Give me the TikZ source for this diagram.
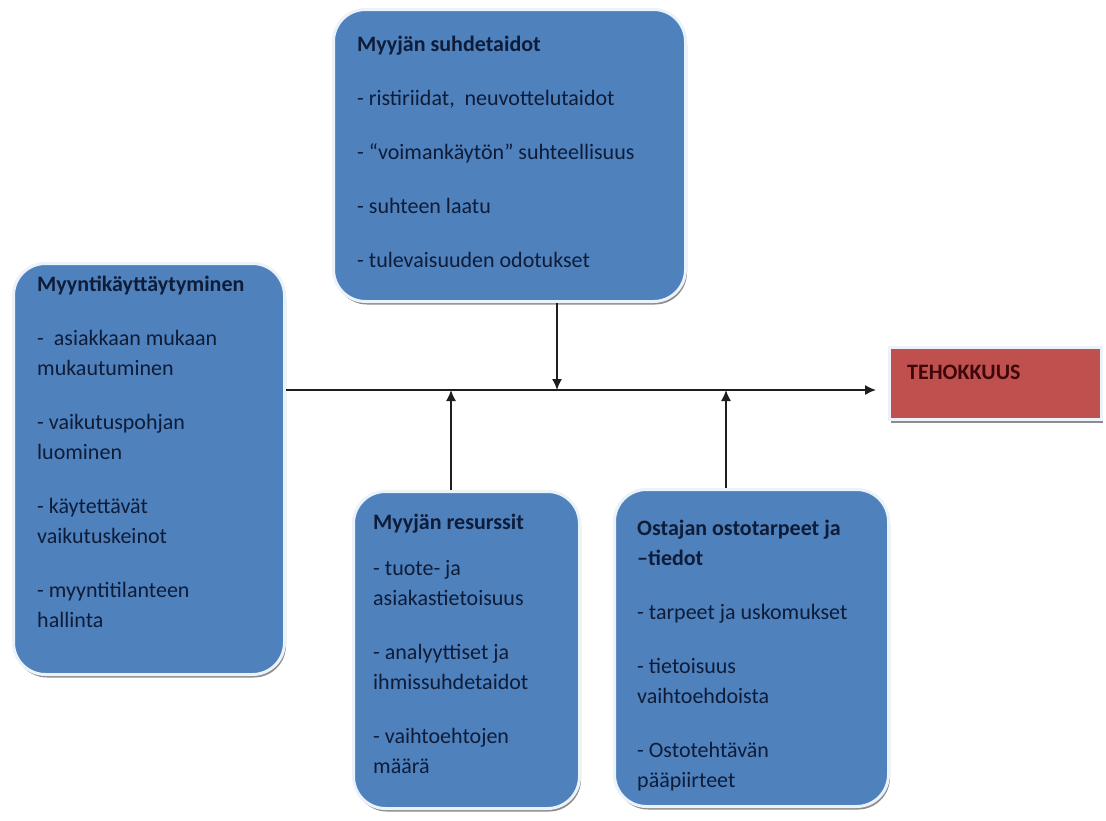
\documentclass[tikz,border=0pt]{standalone}
\usepackage{fontspec}
\setmainfont{Carlito}
\usetikzlibrary{arrows.meta,shadows}

\definecolor{panelblue}{RGB}{79,129,189}
\definecolor{panelred}{RGB}{192,80,77}
\definecolor{inkblue}{RGB}{14,28,56}
\definecolor{inkred}{RGB}{62,8,10}
\definecolor{rimcol}{RGB}{236,242,250}
\definecolor{linecol}{RGB}{30,30,30}

\begin{document}
\begin{tikzpicture}[x=1pt,y=-1pt,
  panel/.style={draw=rimcol, line width=3pt, fill=panelblue,
    rounded corners=32pt, inner sep=0pt, anchor=north west,
    drop shadow={shadow xshift=1.5pt, shadow yshift=-3pt, opacity=0.45, fill=black}},
  goalbox/.style={draw=rimcol, line width=3pt, fill=panelred,
    inner sep=0pt, anchor=north west,
    drop shadow={shadow xshift=1.5pt, shadow yshift=-3pt, opacity=0.45, fill=black}},
  body/.style={anchor=north west, align=left, inner sep=0pt, text=inkblue,
    font=\fontsize{22}{30}\selectfont},
  flow/.style={draw=linecol, line width=1.5pt,
    -{Latex[length=11pt,width=10pt]}}]

\useasboundingbox (0,0) rectangle (1106,820);
\fill[white] (0,0) rectangle (1106,820);

% panels
\node[panel, minimum width=352pt, minimum height=292pt] (suhde) at (332,8) {};
\node[panel, minimum width=271pt, minimum height=411pt] (myynti) at (12,262) {};
\node[panel, minimum width=226pt, minimum height=317pt] (resurssi) at (352,490) {};
\node[panel, minimum width=274pt, minimum height=317pt] (ostaja) at (613,488) {};
\node[goalbox, minimum width=212pt, minimum height=72pt] (tehokkuus) at (888,346) {};

% panel texts (each starts with a strut: first baseline 21pt below the top)
\node[body] (suhdeT) at (357,30) {\strut\textbf{Myyjän suhdetaidot}\\[24pt]
  - ristiriidat, \ neuvottelutaidot\\[24pt]
  - “voimankäytön” suhteellisuus\\[24pt]
  - suhteen laatu\\[24pt]
  - tulevaisuuden odotukset};

\node[body] (myyntiT) at (37,270) {\strut\textbf{Myyntikäyttäytyminen}\\[24pt]
  - \ asiakkaan mukaan\\
  mukautuminen\\[24pt]
  - vaikutuspohjan\\
  luominen\\[24pt]
  - käytettävät\\
  vaikutuskeinot\\[24pt]
  - myyntitilanteen\\
  hallinta};

\node[body] (resurssiT) at (373,508) {\strut\textbf{Myyjän resurssit}\\[16pt]
  - tuote- ja\\
  asiakastietoisuus\\[24pt]
  - analyyttiset ja\\
  ihmissuhdetaidot\\[24pt]
  - vaihtoehtojen\\
  määrä};

\node[body] (ostajaT) at (637,514) {\strut\textbf{Ostajan ostotarpeet ja}\\
  \textbf{–tiedot}\\[24pt]
  - tarpeet ja uskomukset\\[24pt]
  - tietoisuus\\
  vaihtoehdoista\\[24pt]
  - Ostotehtävän\\
  pääpiirteet};

\node[body, anchor=base west, text=inkred] (tehokkuusT) at (907,379) {\textbf{TEHOKKUUS}};

% main axis and the arrows joining it
\coordinate (axis) at (0,390);
\coordinate (jSuhde) at (557,390);
\coordinate (jResurssi) at (451,390);
\coordinate (jOstaja) at (726,390);

\draw[flow, shorten >=12pt] (myynti.east |- axis) -- (tehokkuus.west |- axis);
\draw[flow] (suhde.south -| jSuhde) -- (jSuhde);
\draw[flow] (resurssi.north -| jResurssi) -- (jResurssi);
\draw[flow] (ostaja.north -| jOstaja) -- (jOstaja);
\end{tikzpicture}
\end{document}
